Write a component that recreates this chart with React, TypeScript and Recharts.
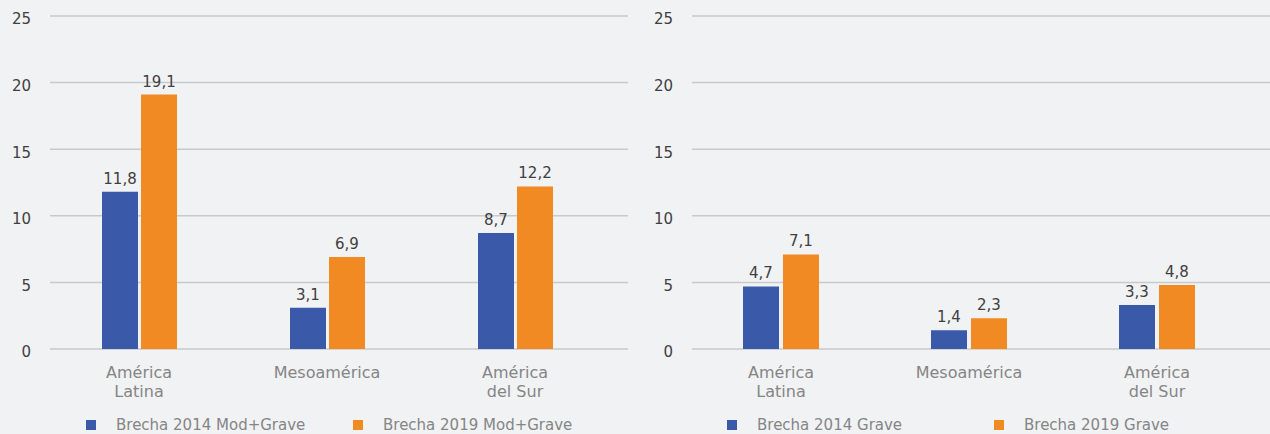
import { BarChart, Bar, XAxis, YAxis, CartesianGrid, Legend, LabelList } from 'recharts';

const categories = ['América Latina', 'Mesoamérica', 'América del Sur'];
const tickLines = [['América', 'Latina'], ['Mesoamérica'], ['América', 'del Sur']];
const yTicks = [0, 5, 10, 15, 20, 25];

const modGraveNames = ['Brecha 2014 Mod+Grave', 'Brecha 2019 Mod+Grave'];
const modGrave2014 = [11.8, 3.1, 8.7];
const modGrave2019 = [19.1, 6.9, 12.2];

const graveNames = ['Brecha 2014 Grave', 'Brecha 2019 Grave'];
const grave2014 = [4.7, 1.4, 3.3];
const grave2019 = [7.1, 2.3, 4.8];

const BLUE = '#3a59a8';
const ORANGE = '#f18a22';
const BG = '#f1f2f4';
const GRID = '#c8c9cb';
const FONT = '"DejaVu Sans", sans-serif';

const fmt = (v: any) => Number(v).toFixed(1).replace('.', ',');

function CategoryTick({ x, y, index }: any) {
  const lines = tickLines[index] || [];
  return (
    <text x={x} textAnchor="middle" fill="#858585" fontSize={16} fontFamily={FONT}>
      {lines.map((l, i) => (
        <tspan key={i} x={x} y={y + 29 + i * 19}>{l}</tspan>
      ))}
    </text>
  );
}

function makeLegend(startX: number) {
  return function LegendContent({ payload }: any) {
    return (
      <div style={{ position: 'relative', height: 35, fontFamily: FONT, fontSize: 15, color: '#858585' }}>
        {(payload || []).map((p: any, i: number) => (
          <div key={i} style={{ position: 'absolute', left: startX + i * 267, top: 19, display: 'flex', alignItems: 'center', whiteSpace: 'nowrap' }}>
            <span style={{ width: 10, height: 10, background: p.color, display: 'inline-block', marginRight: 20 }} />
            <span style={{ lineHeight: '14px' }}>{p.value}</span>
          </div>
        ))}
      </div>
    );
  };
}

function GapChart({ names, a, b, yWidth, right, gap, legendX }: any) {
  const data = categories.map((c, i) => ({ name: c, a: a[i], b: b[i] }));
  return (
    <BarChart width={635} height={434} data={data} margin={{ top: 16, right, left: 0, bottom: 0 }} barSize={36} barGap={gap}>
      <CartesianGrid vertical={false} stroke={GRID} strokeWidth={1.5} />
      <XAxis dataKey="name" axisLine={false} tickLine={false} tickSize={0} tickMargin={0} height={50}
        interval={0} padding={{ left: -5, right: 19 }} tick={<CategoryTick />} />
      <YAxis domain={[0, 25]} ticks={yTicks} width={yWidth} axisLine={false} tickLine={false} tickSize={0} tickMargin={19}
        tick={{ fill: '#404040', fontSize: 15, fontFamily: FONT, dy: 3 }} />
      <Legend verticalAlign="bottom" align="left" height={35} wrapperStyle={{ left: 0, width: 635 }} content={makeLegend(legendX)} />
      <Bar dataKey="a" name={names[0]} fill={BLUE} isAnimationActive={false}>
        <LabelList dataKey="a" position="top" offset={8} formatter={fmt} fill="#404040" fontSize={15} fontFamily={FONT} />
      </Bar>
      <Bar dataKey="b" name={names[1]} fill={ORANGE} isAnimationActive={false}>
        <LabelList dataKey="b" position="top" offset={8} formatter={fmt} fill="#404040" fontSize={15} fontFamily={FONT} />
      </Bar>
    </BarChart>
  );
}

export default function App() {
  return (
    <div style={{ position: 'absolute', left: 0, top: 0, width: 1270, height: 434, background: BG, display: 'flex', overflow: 'hidden' }}>
      <GapChart names={modGraveNames} a={modGrave2014} b={modGrave2019} yWidth={50} right={7} gap={3} legendX={86} />
      <GapChart names={graveNames} a={grave2014} b={grave2019} yWidth={57} right={0} gap={4} legendX={92} />
    </div>
  );
}
